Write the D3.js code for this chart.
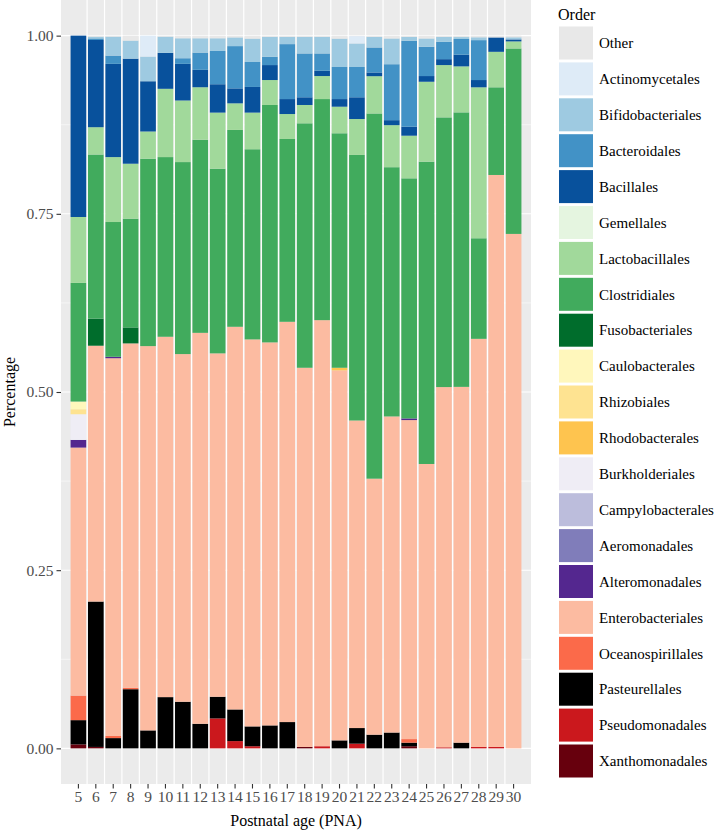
<!DOCTYPE html>
<html><head><meta charset="utf-8">
<script src="https://cdn.jsdelivr.net/npm/d3@7"></script>
<style>
html,body{margin:0;padding:0;background:#fff;}
svg{display:block;}
text{font-family:"Liberation Serif","Times New Roman",serif;}
</style></head>
<body><svg id="chart" width="726" height="830"></svg>
<script>
const pna = [5,6,7,8,9,10,11,12,13,14,15,16,17,18,19,20,21,22,23,24,25,26,27,28,29,30];
const yTicks = [0, 0.25, 0.5, 0.75, 1];
const orders = ["Other","Actinomycetales","Bifidobacteriales","Bacteroidales","Bacillales","Gemellales","Lactobacillales","Clostridiales","Fusobacteriales","Caulobacterales","Rhizobiales","Rhodobacterales","Burkholderiales","Campylobacterales","Aeromonadales","Alteromonadales","Enterobacteriales","Oceanospirillales","Pasteurellales","Pseudomonadales","Xanthomonadales"];
const colors = ["#E8E8E8","#DEEBF7","#9ECAE1","#4292C6","#08519C","#E5F5E0","#A1D99B","#41AB5D","#006D2C","#FFF7BC","#FEE391","#FEC44F","#EFEDF5","#BCBDDC","#807DBA","#54278F","#FCBBA1","#FB6A4A","#000000","#CB181D","#67000D"];

const Other = [0,0.0015,0.0014,0.007,0,0.0014,0.0037,0.0037,0.0037,0.0025,0.0042,0.0017,0.0017,0.0017,0.0017,0.0042,0.0007,0.0017,0.004,0.0017,0.004,0.0017,0.002,0.0023,0.0025,0.0023];
const Actinomycetales = [0,0,0,0,0.0294,0,0,0,0,0,0,0,0,0,0,0,0.0103,0,0,0,0,0,0,0,0,0];
const Bifidobacteriales = [0,0.0024,0.0266,0.0253,0.0346,0.0228,0.028,0.0201,0.0178,0.0122,0.0328,0.028,0.0102,0.0233,0.0233,0.0398,0.033,0.0149,0.0361,0.0056,0.0117,0.007,0.0027,0.004,0,0.003];
const Bacteroidales = [0,0.0022,0.0116,0,0,0,0.0079,0.0242,0.0467,0.0593,0.035,0.0116,0.0771,0.0615,0.0243,0.045,0.0425,0.0351,0.0785,0.1205,0.041,0.0243,0.022,0.056,0,0];
const Bacillales = [0.2545,0.1224,0.1308,0.1474,0.0705,0.0504,0.0514,0.0244,0.0398,0.021,0.036,0.021,0.021,0.0108,0.0074,0.0107,0.0305,0.0052,0.007,0.0126,0.008,0.0083,0.0164,0.0102,0.0202,0.0028];
const Gemellales = [0,0,0,0,0,0,0,0,0,0,0,0,0,0,0,0,0,0,0,0,0,0,0,0,0,0];
const Lactobacillales = [0.0925,0.0383,0.0911,0.0771,0.0382,0.0958,0.0864,0.0737,0.0787,0.0373,0.0514,0.035,0.035,0.0257,0.0323,0.0373,0.0504,0.0523,0.059,0.0598,0.1121,0.0734,0.0645,0.2118,0.0498,0.0099];
const Clostridiales = [0.1665,0.2303,0.1891,0.1526,0.2629,0.2521,0.2694,0.2709,0.2591,0.2762,0.2668,0.3331,0.2565,0.343,0.3102,0.329,0.3726,0.5124,0.3497,0.3369,0.4242,0.3784,0.3849,0.1411,0.123,0.2602];
const Fusobacteriales = [0,0.038,0,0.0224,0,0,0,0,0,0,0,0,0,0,0,0,0,0,0,0,0,0,0,0,0,0];
const Caulobacterales = [0.0108,0,0,0,0,0,0,0,0,0,0,0,0,0,0,0,0,0,0,0,0,0,0,0,0,0];
const Rhizobiales = [0.007,0,0,0,0,0,0,0,0,0,0,0,0,0,0,0,0,0,0,0,0,0,0,0,0,0];
const Rhodobacterales = [0,0,0,0,0,0,0,0,0,0,0,0,0,0,0,0.0037,0,0,0,0,0,0,0,0,0,0];
const Burkholderiales = [0.036,0,0,0,0,0,0,0,0,0,0,0,0,0,0,0,0,0,0,0,0,0,0,0,0,0];
const Campylobacterales = [0,0,0,0,0,0,0,0,0,0,0,0,0,0,0,0,0,0,0,0,0,0,0,0,0,0];
const Aeromonadales = [0,0,0,0,0,0,0,0,0,0,0,0,0,0,0,0,0,0,0,0,0,0,0,0,0,0];
const Alteromonadales = [0.0108,0,0.002,0,0,0,0,0,0,0,0,0,0,0,0,0,0,0,0,0.0023,0,0,0,0,0,0];
const Enterobacteriales = [0.348,0.359,0.53,0.4832,0.5392,0.5056,0.4878,0.5485,0.4818,0.5369,0.543,0.5374,0.5616,0.532,0.5978,0.5191,0.4315,0.3592,0.4435,0.4476,0.399,0.5054,0.4989,0.5726,0.8025,0.7218];
const Oceanospirillales = [0.0345,0,0.003,0.002,0,0,0,0,0,0,0,0,0,0,0,0,0,0,0,0.005,0,0,0,0,0,0];
const Pasteurellales = [0.034,0.204,0.0144,0.083,0.0252,0.0719,0.0654,0.0345,0.0304,0.0444,0.0278,0.0322,0.0369,0,0,0.0112,0.0219,0.0192,0.0222,0.005,0,0,0.008,0,0,0];
const Pseudomonadales = [0,0,0,0,0,0,0,0,0.042,0.0102,0.003,0,0,0,0.003,0,0.0066,0,0,0,0,0.0015,0,0.002,0.002,0];
const Xanthomonadales = [0.0056,0.002,0,0,0,0,0,0,0,0,0,0,0,0.002,0,0,0,0,0,0.003,0,0,0,0,0,0];

const seriesByName = {Other,Actinomycetales,Bifidobacteriales,Bacteroidales,Bacillales,Gemellales,Lactobacillales,Clostridiales,Fusobacteriales,Caulobacterales,Rhizobiales,Rhodobacterales,Burkholderiales,Campylobacterales,Aeromonadales,Alteromonadales,Enterobacteriales,Oceanospirillales,Pasteurellales,Pseudomonadales,Xanthomonadales};

const rows = pna.map((p,i)=>{const r={pna:p}; orders.forEach(o=>r[o]=seriesByName[o][i]); return r;});
const stackKeys = orders.slice().reverse(); // bottom first
const stacked = d3.stack().keys(stackKeys).offset(d3.stackOffsetExpand)(rows);
const color = d3.scaleOrdinal().domain(orders).range(colors);

const svg = d3.select("#chart");
const P = {left:61, right:531, top:0, bottom:784};
const x = d3.scaleBand().domain(pna).range([P.left,P.right]).paddingInner(0.1).paddingOuter(0.55);
const y = d3.scaleLinear().domain([-0.05,1.05]).range([P.bottom,P.top]);

// panel
svg.append("rect").attr("x",P.left).attr("y",P.top).attr("width",P.right-P.left).attr("height",P.bottom-P.top).attr("fill","#EBEBEB");
const g = svg.append("g");
[0.125,0.375,0.625,0.875].forEach(v=>g.append("line").attr("x1",P.left).attr("x2",P.right).attr("y1",y(v)).attr("y2",y(v)).attr("stroke","#fff").attr("stroke-width",0.55));
yTicks.forEach(v=>g.append("line").attr("x1",P.left).attr("x2",P.right).attr("y1",y(v)).attr("y2",y(v)).attr("stroke","#fff").attr("stroke-width",1.1));
const step = x.step();
pna.slice(1).forEach(p=>{const xx = x(p) - step*x.paddingInner()/2; g.append("line").attr("x1",xx).attr("x2",xx).attr("y1",P.top).attr("y2",P.bottom).attr("stroke","#fff").attr("stroke-width",1.2);});

// bars
svg.append("g").selectAll("g").data(stacked).join("g").attr("fill",d=>color(d.key))
  .selectAll("rect").data(d=>d).join("rect")
  .attr("x",d=>x(d.data.pna)).attr("width",x.bandwidth())
  .attr("y",d=>y(d[1])).attr("height",d=>Math.max(0,y(d[0])-y(d[1])));

// axes
const yAxis = svg.append("g").attr("transform",`translate(${P.left},0)`).call(d3.axisLeft(y).tickValues(yTicks).tickFormat(d3.format(".2f")).tickSize(4.5).tickPadding(3));
const xAxis = svg.append("g").attr("transform",`translate(0,${P.bottom})`).call(d3.axisBottom(x).tickSize(4.5).tickPadding(2));
[yAxis,xAxis].forEach(a=>{a.select(".domain").remove(); a.selectAll(".tick line").attr("stroke","#333").attr("stroke-width",1.1); a.selectAll("text").attr("fill","#4D4D4D").style("font-size","15.5px").style("font-family","'Liberation Serif',serif");});

svg.append("text").attr("x",(P.left+P.right)/2).attr("y",826).attr("text-anchor","middle").style("font-size","16px").text("Postnatal age (PNA)");
svg.append("text").attr("transform",`translate(15,${y(0.5)}) rotate(-90)`).attr("text-anchor","middle").style("font-size","16px").text("Percentage");

// legend
const L = svg.append("g");
L.append("text").attr("x",558).attr("y",20).style("font-size","16px").text("Order");
orders.forEach((o,i)=>{
  const yy = 26.5 + i*35.9;
  L.append("rect").attr("x",559).attr("y",yy).attr("width",34).attr("height",33).attr("fill",color(o));
  L.append("text").attr("x",599).attr("y",yy+16.5).attr("dy","0.35em").style("font-size","15px").text(o);
});
</script></body></html>
